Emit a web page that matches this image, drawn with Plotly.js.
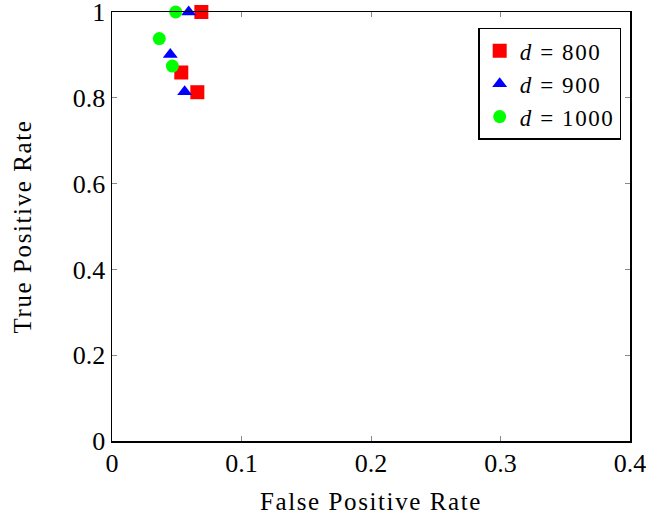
<!DOCTYPE html>
<html><head><meta charset="utf-8">
<script src="https://cdn.plot.ly/plotly-3.0.1.min.js"></script>
<style>
body{margin:0;background:#fff}
.g-xtitle text, .g-ytitle text {letter-spacing: 1.6px;}
.legendtext {letter-spacing: 1.6px;}
</style>
</head><body>
<div id="chart" style="width:646px;height:520px"></div>
<script>
const seriesNames = ['<i>d</i> = 800', '<i>d</i> = 900', '<i>d</i> = 1000'];
const fpr800 = [0.069, 0.0535, 0.0659];
const tpr800 = [1.0, 0.859, 0.813];
const fpr900 = [0.0592, 0.045, 0.0561];
const tpr900 = [1.0, 0.901, 0.814];
const fpr1000 = [0.0492, 0.0365, 0.0466];
const tpr1000 = [1.0, 0.938, 0.874];
const xTicks = [0, 0.1, 0.2, 0.3, 0.4];
const xTickLabels = ['0', '0.1', '0.2', '0.3', '0.4'];
const yTicks = [0, 0.2, 0.4, 0.6, 0.8, 1];
const yTickLabels = ['0', '0.2', '0.4', '0.6', '0.8', '1'];

const font = 'Liberation Serif, DejaVu Serif, serif';
const traces = [
  {x: fpr800, y: tpr800, name: seriesNames[0], mode: 'markers', type: 'scatter', cliponaxis: false,
   marker: {symbol: 'square', size: 14, color: '#ff0000'}},
  {x: fpr900, y: tpr900, name: seriesNames[1], mode: 'markers', type: 'scatter', cliponaxis: false,
   marker: {symbol: 'triangle-up', size: 13, color: '#0000ff'}},
  {x: fpr1000, y: tpr1000, name: seriesNames[2], mode: 'markers', type: 'scatter', cliponaxis: false,
   marker: {symbol: 'circle', size: 13, color: '#00ff00'}}
];
const axisCommon = {
  showgrid: false, zeroline: false, showline: true, linecolor: '#000', linewidth: 1.5,
  mirror: 'ticks', ticks: 'inside', ticklen: 5, tickcolor: '#888', tickwidth: 1,
  ticklabeloverflow: 'allow',
  tickfont: {family: font, size: 26, color: '#000'}
};
const layout = {
  width: 646, height: 520,
  margin: {l: 112, r: 16, t: 12, b: 79},
  paper_bgcolor: '#fff', plot_bgcolor: '#fff',
  showlegend: true,
  legend: {x: 0.983, y: 0.963, xanchor: 'right', yanchor: 'top', bordercolor: '#000', borderwidth: 1.5,
           bgcolor: '#fff', font: {family: font, size: 23, color: '#000'}, itemwidth: 30, tracegroupgap: 0},
  xaxis: Object.assign({}, axisCommon, {range: [0, 0.4], tickvals: xTicks, ticktext: xTickLabels, ticklabelstandoff: -2,
    title: {text: 'False Positive Rate', font: {family: font, size: 25, color: '#000'}, standoff: 16}}),
  yaxis: Object.assign({}, axisCommon, {range: [0, 1], tickvals: yTicks, ticktext: yTickLabels,
    title: {text: 'True Positive Rate', font: {family: font, size: 25, color: '#000'}, standoff: 34}})
};
Plotly.newPlot('chart', traces, layout, {displayModeBar: false, staticPlot: true});
</script>
</body></html>
